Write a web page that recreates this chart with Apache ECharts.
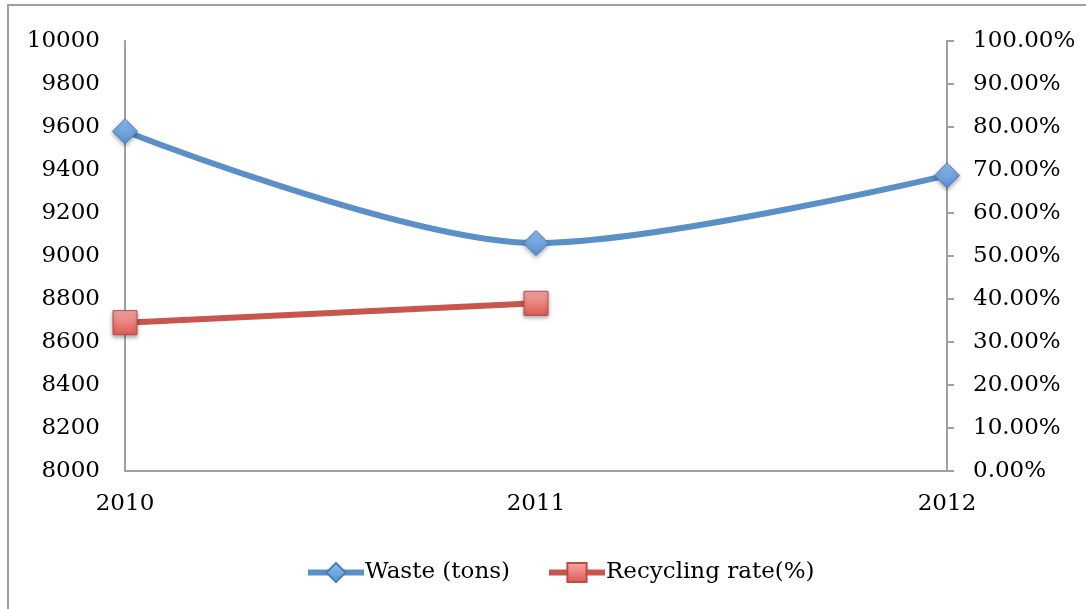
<!DOCTYPE html>
<html>
<head>
<meta charset="utf-8">
<script src="https://cdn.jsdelivr.net/npm/echarts@6/dist/echarts.min.js"></script>
<style>
  html, body { margin: 0; padding: 0; background: #fff; }
  #chart { width: 1086px; height: 609px; }
</style>
</head>
<body>
<div id="chart"></div>
<script>
// data
const years = ['2010', '2011', '2012']
const waste = [9580, 9060, 9375]
const recycling = [0.345, 0.39]

const font = 'DejaVu Serif'
const chart = echarts.init(document.getElementById('chart'))

const option = {
  backgroundColor: '#fff',
  animation: false,
  textStyle: { fontFamily: font },
  graphic: [{
    type: 'rect',
    shape: { x: 8, y: 5, width: 1200, height: 800 },
    style: { fill: 'none', stroke: '#a0a0a0', lineWidth: 2 },
    silent: true
  }],
  grid: { left: 125, right: 139, top: 41, bottom: 138 },
  legend: {
    left: 300,
    top: 556,
    itemWidth: 56,
    itemHeight: 24,
    itemGap: 36,
    lineStyle: { width: 6 },
    textStyle: { fontFamily: font, fontSize: 23, color: '#000', padding: [0, 0, 0, -4] },
    data: ['Waste (tons)', 'Recycling rate(%)']
  },
  xAxis: {
    type: 'category',
    data: years,
    boundaryGap: false,
    axisLine: { lineStyle: { color: '#a0a0a0', width: 2 } },
    axisTick: { show: false },
    axisLabel: { fontFamily: font, fontSize: 23, color: '#000', margin: 22 }
  },
  yAxis: [{
    type: 'value',
    min: 8000,
    max: 10000,
    interval: 200,
    axisLine: { show: true, lineStyle: { color: '#a0a0a0', width: 2 } },
    axisTick: { show: false },
    splitLine: { show: false },
    axisLabel: {
      fontFamily: font, fontSize: 23, color: '#000', margin: 25,
      formatter: v => String(v)
    }
  }, {
    type: 'value',
    min: 0,
    max: 1,
    interval: 0.1,
    axisLine: { show: true, lineStyle: { color: '#a0a0a0', width: 2 } },
    axisTick: { show: true, length: 7, lineStyle: { color: '#a0a0a0', width: 2 } },
    splitLine: { show: false },
    axisLabel: {
      fontFamily: font, fontSize: 23, color: '#000', margin: 26,
      formatter: v => (v * 100).toFixed(2) + '%'
    }
  }],
  series: [{
    name: 'Waste (tons)',
    type: 'line',
    smooth: 0.3,
    data: waste,
    yAxisIndex: 0,
    symbol: 'diamond',
    symbolSize: 25,
    lineStyle: { color: '#5b8fc7', width: 6 },
    itemStyle: {
      color: new echarts.graphic.LinearGradient(0, 0, 0, 1, [
        { offset: 0, color: '#8ebcef' },
        { offset: 1, color: '#5a8fd0' }
      ]),
      borderColor: '#4a7ebb',
      borderWidth: 1,
      shadowColor: 'rgba(0,0,0,0.35)',
      shadowBlur: 4,
      shadowOffsetY: 2
    },
    z: 3
  }, {
    name: 'Recycling rate(%)',
    type: 'line',
    data: recycling,
    yAxisIndex: 1,
    symbol: 'rect',
    symbolSize: 24,
    lineStyle: { color: '#c9564e', width: 6 },
    itemStyle: {
      color: new echarts.graphic.LinearGradient(0, 0, 0, 1, [
        { offset: 0, color: '#f7aaa6' },
        { offset: 1, color: '#dd5a54' }
      ]),
      borderColor: '#be4b48',
      borderWidth: 1,
      shadowColor: 'rgba(0,0,0,0.35)',
      shadowBlur: 4,
      shadowOffsetY: 2
    },
    z: 3
  }]
}

chart.setOption(option)
</script>
</body>
</html>
